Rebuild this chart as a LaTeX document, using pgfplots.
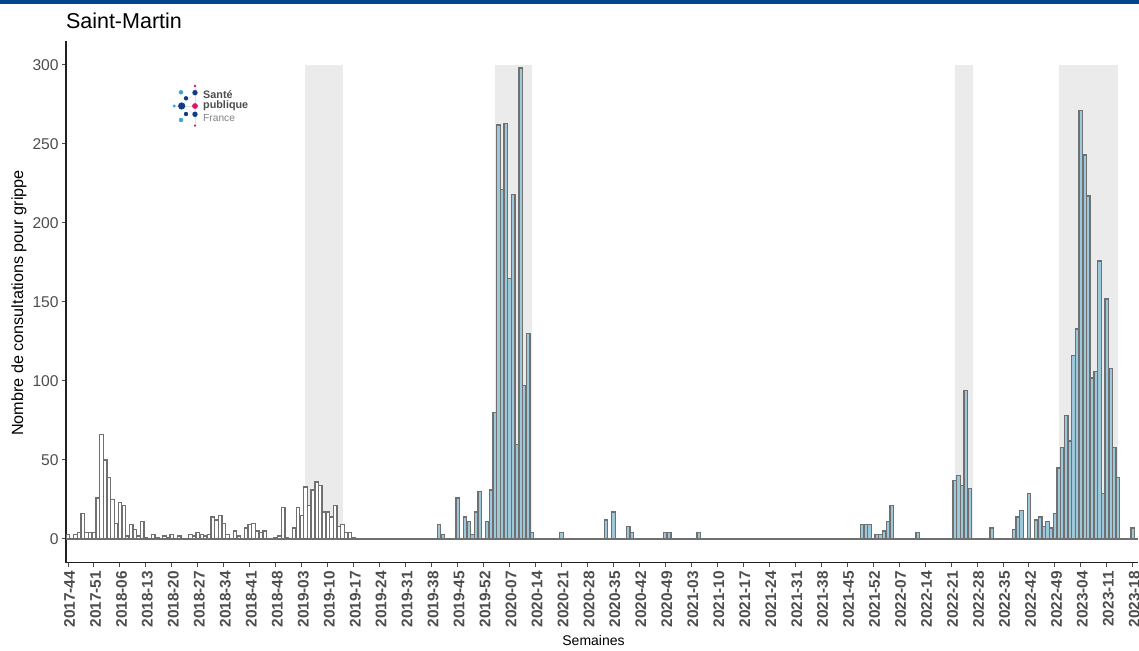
\documentclass[border=0pt]{standalone}
\usepackage{fontspec}
\setmainfont{Liberation Sans}
\usepackage{pgfplots}
\pgfplotsset{compat=1.18}
\definecolor{band}{HTML}{00468F}
\definecolor{shade}{HTML}{EBEBEB}
\definecolor{barline}{HTML}{707070}
\definecolor{barblue}{HTML}{9CC8DA}
\definecolor{ticktext}{HTML}{4D4D4D}
\definecolor{spine}{HTML}{222222}
\definecolor{lnavy}{HTML}{0F3D86}
\definecolor{lsky}{HTML}{35A7E0}
\definecolor{lpink}{HTML}{E0146E}
\newcommand{\px}[1]{\fontsize{#1}{#1}\selectfont}
\newcommand{\dotpx}[4]{\fill[#4] ({160+#1/3},{650-75-#2/3}) circle (#3);}
\begin{document}
\begin{tikzpicture}[x=1pt,y=1pt]
\path[use as bounding box] (0,0) rectangle (1139,650);
\fill[band] (0,645.5) rectangle (1139,650);
\begin{axis}[
  at={(65.8pt,87.3pt)}, anchor=south west,
  scale only axis, width=1072.6pt, height=521.4pt,
  xmin=-0.6, xmax=288.5, ymin=-15, ymax=315,
  axis x line*=bottom, axis y line*=left,
  axis line style={draw=spine, line width=1.6pt, -},
  tick style={draw=ticktext, line width=1pt},
  tick align=outside, major tick length=4pt,
  xtick={0,7,...,287},
  xticklabels={2017-44,2017-51,2018-06,2018-13,2018-20,2018-27,2018-34,2018-41,2018-48,2019-03,2019-10,2019-17,2019-24,2019-31,2019-38,2019-45,2019-52,2020-07,2020-14,2020-21,2020-28,2020-35,2020-42,2020-49,2021-03,2021-10,2021-17,2021-24,2021-31,2021-38,2021-45,2021-52,2022-07,2022-14,2022-21,2022-28,2022-35,2022-42,2022-49,2023-04,2023-11,2023-18},
  ytick={0,50,100,150,200,250,300},
  x tick label style={rotate=90, anchor=east, font=\px{15.4}\bfseries, text=ticktext, inner sep=0pt, xshift=-4pt, yshift=-1.5pt},
  y tick label style={font=\px{15.6}, text=ticktext, inner sep=0pt, xshift=-3pt},
  /pgf/number format/assume math mode=true,
  xlabel={Semaines},
  every axis x label/.style={at={(axis description cs:0.492,0)}, anchor=center, yshift=-77.3pt, font=\px{14}},
  ylabel={Nombre de consultations pour grippe},
  every axis y label/.style={at={(axis description cs:0,0.498)}, anchor=center, rotate=90, yshift=46.8pt, font=\px{16.2}},
  title={Saint-Martin},
  every axis title/.style={at={(axis description cs:0,1)}, anchor=west, yshift=20pt, font=\px{21.5}, inner sep=0pt},
  clip=false,
]
% shaded epidemic periods
\addplot[fill=shade, draw=none] coordinates {(64,0)(64,300)(74,300)(74,0)} -- cycle;
\addplot[fill=shade, draw=none] coordinates {(115,0)(115,300)(125,300)(125,0)} -- cycle;
\addplot[fill=shade, draw=none] coordinates {(239,0)(239,300)(244,300)(244,0)} -- cycle;
\addplot[fill=shade, draw=none] coordinates {(267,0)(267,300)(283,300)(283,0)} -- cycle;
% white bars
\addplot[ybar, bar width=0.95, bar shift=0pt, draw=barline, line width=1.35pt, fill=white] coordinates {
(0,3)(2,3)(3,4)(4,16)(5,4)(6,4)(7,4)(8,26)(9,66)(10,50)(11,39)(12,25)(13,10)(14,23)(15,21)(16,2)(17,9)(18,6)(19,2)(20,11)(21,1)(23,3)(24,1)(26,2)(27,1)(28,3)(30,2)(33,3)(34,2)(35,4)(36,3)(37,2)(38,3)(39,14)(40,12)(41,15)(42,10)(43,3)(45,5)(46,2)(48,7)(49,9)(50,10)(51,5)(52,4)(53,5)(56,1)(57,2)(58,20)(59,1)(61,7)(62,20)(63,15)(64,33)(65,21)(66,31)(67,36)(68,34)(69,17)(70,17)(71,14)(72,21)(73,8)(74,9)(75,4)(76,4)(77,1)
};
\addplot[ybar, bar width=0.95, bar shift=0pt, draw=barline, line width=1.35pt, fill=barblue] coordinates {
(100,9)(101,3)(105,26)(107,14)(108,11)(109,3)(110,17)(111,30)(113,11)(114,31)(115,80)(116,262)(117,221)(118,263)(119,165)(120,218)(121,60)(122,298)(123,97)(124,130)(125,4)(133,4)(145,12)(147,17)(151,8)(152,4)(161,4)(162,4)(170,4)(214,9)(215,9)(216,9)(218,3)(219,3)(220,5)(221,11)(222,21)(229,4)(239,37)(240,40)(241,34)(242,94)(243,32)(249,7)(255,6)(256,14)(257,18)(259,29)(261,12)(262,14)(263,8)(264,11)(265,7)(266,16)(267,45)(268,58)(269,78)(270,62)(271,116)(272,133)(273,271)(274,243)(275,217)(276,102)(277,106)(278,176)(279,29)(280,152)(281,108)(282,58)(283,39)(287,7)
};
% zero baseline
\addplot[draw=barline, line width=1.5pt, forget plot] coordinates {(-0.6,0)(288.5,0)};
\end{axis}
% logo
\begin{scope}
\draw[gray!25, line width=0.4pt] ({160+65/3},{650-75-93/3}) -- ({160+105/3},{650-75-53/3});
\draw[gray!25, line width=0.4pt] ({160+65/3},{650-75-93/3}) -- ({160+105/3},{650-75-118/3});
\draw[gray!25, line width=0.4pt] ({160+105/3},{650-75-33/3}) -- ({160+105/3},{650-75-152/3});
\draw[gray!25, line width=0.4pt] ({160+43/3},{650-75-93/3}) -- ({160+105/3},{650-75-93/3});
\dotpx{105}{33}{1.3}{lpink}
\dotpx{105}{53}{2.7}{lnavy}
\dotpx{78}{70}{2.2}{lnavy}
\dotpx{63}{52}{2.2}{lsky}
\dotpx{43}{93}{1.6}{lsky}
\dotpx{65}{93}{3.6}{lnavy}
\dotpx{105}{93}{2.9}{lpink}
\dotpx{78}{117}{2.2}{lnavy}
\dotpx{63}{135}{2.2}{lsky}
\dotpx{105}{118}{2.7}{lnavy}
\dotpx{105}{152}{1.3}{lpink}
\node[anchor=west, inner sep=0pt, text=ticktext, font=\px{10.8}\bfseries] at (203,555) {Santé};
\node[anchor=west, inner sep=0pt, text=ticktext, font=\px{10.8}\bfseries] at (203,544) {publique};
\node[anchor=west, inner sep=0pt, text=gray, font=\px{10.2}] at (203,531.5) {France};
\end{scope}
\end{tikzpicture}
\end{document}
